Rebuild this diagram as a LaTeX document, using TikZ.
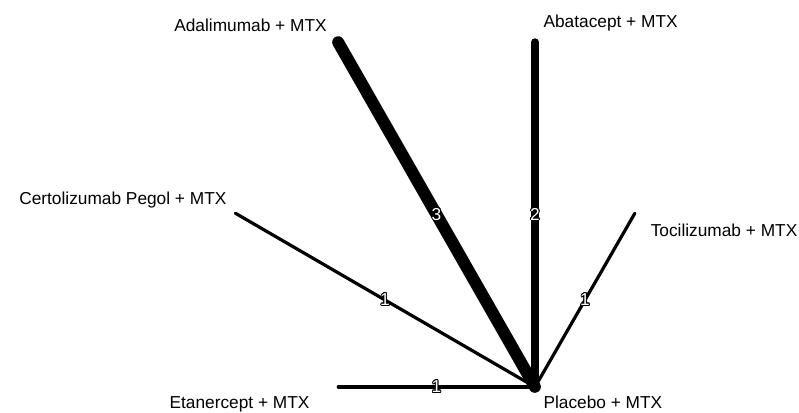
\documentclass[tikz,border=0pt]{standalone}
\usepackage{fontspec}
\setmainfont{Liberation Sans}
\usepackage{contour}
\contourlength{0.6pt}
\usetikzlibrary{positioning}
\newcommand{\wnum}[1]{\contour{black}{\textcolor{white}{#1}}}

\begin{document}
\begin{tikzpicture}[
  trt/.style={inner sep=0pt,minimum size=0pt},
  hub/.style={circle,fill=black,inner sep=0pt,minimum size=0.28cm},
  lbl/.style={font=\fontsize{12.3}{15}\selectfont,inner sep=0pt},
  num/.style={font=\fontsize{12.3}{15}\selectfont,inner sep=0pt},
  link/.style={black,line cap=round,line width=#1}
]
\useasboundingbox (0,0) rectangle (19.975,-10.3);
\node[trt] (ada) at (8.45,-1.05)   {};
\node[trt] (aba) at (13.375,-1.05) {};
\node[trt] (cer) at (5.875,-5.325) {};
\node[trt] (toc) at (15.875,-5.325) {};
\node[trt] (eta) at (8.45,-9.675)  {};
\node[trt] (pla) at (13.375,-9.675) {};
\node[lbl,above left=0.25cm and 0.27cm of ada]  (ada-l) {Adalimumab + MTX};
\node[lbl,above right=0.26cm and 0.2cm of aba]  (aba-l) {Abatacept + MTX};
\node[lbl,above left=0.1cm and 0.2cm of cer]    (cer-l) {Certolizumab Pegol + MTX};
\node[lbl,below right=0.25cm and 0.38cm of toc] (toc-l) {Tocilizumab + MTX};
\node[lbl,below left=0.22cm and 0.7cm of eta]   (eta-l) {Etanercept + MTX};
\node[lbl,below right=0.22cm and 0.2cm of pla]  (pla-l) {Placebo + MTX};
\draw[link=0.3cm]  (pla) -- node[num]{\wnum{3}} (ada);
\draw[link=0.2cm]  (pla) -- node[num]{\wnum{2}} (aba);
\draw[link=0.08cm] (pla) -- node[num]{\wnum{1}} (cer);
\draw[link=0.08cm] (pla) -- node[num]{\wnum{1}} (toc);
\draw[link=0.08cm] (pla) -- node[num]{\wnum{1}} (eta);
\node[hub] (pla-d) at (pla) {};
\end{tikzpicture}
\end{document}
